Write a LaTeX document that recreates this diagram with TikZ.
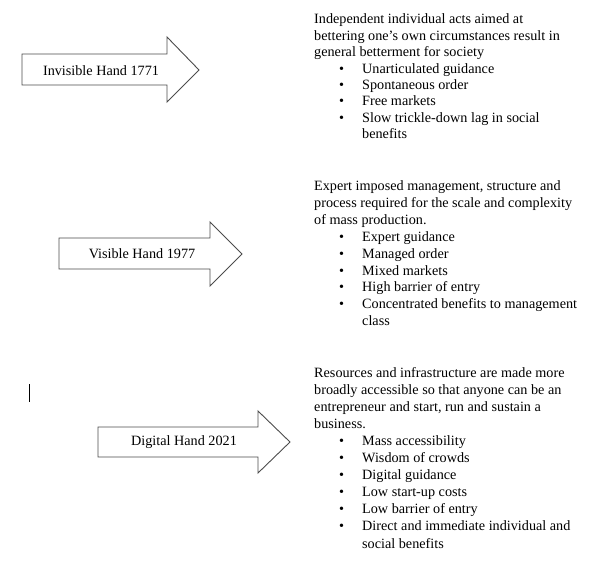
\documentclass[tikz,border=0pt]{standalone}
\usepackage{fontspec}
\setmainfont{Liberation Serif}
\begin{document}
\begin{tikzpicture}[x=1pt,y=-1pt,
  harrow/.style={draw=black!70, line width=0.9pt, fill=white},
  lbl/.style={font=\fontsize{14.2}{16}\selectfont, inner sep=0pt},
  txt/.style={font=\fontsize{14.2}{16}\selectfont, inner sep=0pt, anchor=base west},
  bul/.style={txt}]
\useasboundingbox (0,0) rectangle (589,580);
% arrows
\draw[harrow] (22,54) -- (167,54) -- (167,37) -- (199,70) -- (167,102) -- (167,85) -- (22,85) -- cycle;
\node[lbl] (h1) at (101,71) {Invisible Hand 1771};
\draw[harrow] (59,238) -- (210,238) -- (210,222) -- (242,254) -- (210,286) -- (210,269) -- (59,269) -- cycle;
\node[lbl] (h2) at (142,254) {Visible Hand 1977};
\draw[harrow] (98,427) -- (258,427) -- (258,411) -- (290,442) -- (258,473) -- (258,457) -- (98,457) -- cycle;
\node[lbl] (h3) at (184,442) {Digital Hand 2021};
% cursor
\draw[line width=0.8pt] (29,384) -- (29,402);
% block 1
\foreach \t [count=\i] in {{Independent individual acts aimed at},{bettering one’s own circumstances result in},{general betterment for society}}
  \node[txt] (a\i) at (314,{24+(\i-1)*16.4}) {\t};
\foreach \t [count=\i] in {{Unarticulated guidance},{Spontaneous order},{Free markets},{Slow trickle-down lag in social}}
  {\node[txt] (ab\i) at (339,{24+(\i+2)*16.4}) {•};
   \node[txt] (at\i) at (362,{24+(\i+2)*16.4}) {\t};}
\node[txt] (a8) at (362,{24+7*16.4}) {benefits};
% block 2
\foreach \t [count=\i] in {{Expert imposed management, structure and},{process required for the scale and complexity},{of mass production.}}
  \node[txt] (b\i) at (314,{191+(\i-1)*16.8}) {\t};
\foreach \t [count=\i] in {{Expert guidance},{Managed order},{Mixed markets},{High barrier of entry},{Concentrated benefits to management}}
  {\node[txt] (bb\i) at (339,{191+(\i+2)*16.8}) {•};
   \node[txt] (bt\i) at (362,{191+(\i+2)*16.8}) {\t};}
\node[txt] (b9) at (362,{191+8*16.8}) {class};
% block 3
\foreach \t [count=\i] in {{Resources and infrastructure are made more},{broadly accessible so that anyone can be an},{entrepreneur and start, run and sustain a},{business.}}
  \node[txt] (c\i) at (314,{377+(\i-1)*17.1}) {\t};
\foreach \t [count=\i] in {{Mass accessibility},{Wisdom of crowds},{Digital guidance},{Low start-up costs},{Low barrier of entry},{Direct and immediate individual and}}
  {\node[txt] (cb\i) at (339,{377+(\i+3)*17.1}) {•};
   \node[txt] (ct\i) at (362,{377+(\i+3)*17.1}) {\t};}
\node[txt] (c11) at (362,{377+10*17.1}) {social benefits};
\end{tikzpicture}
\end{document}
